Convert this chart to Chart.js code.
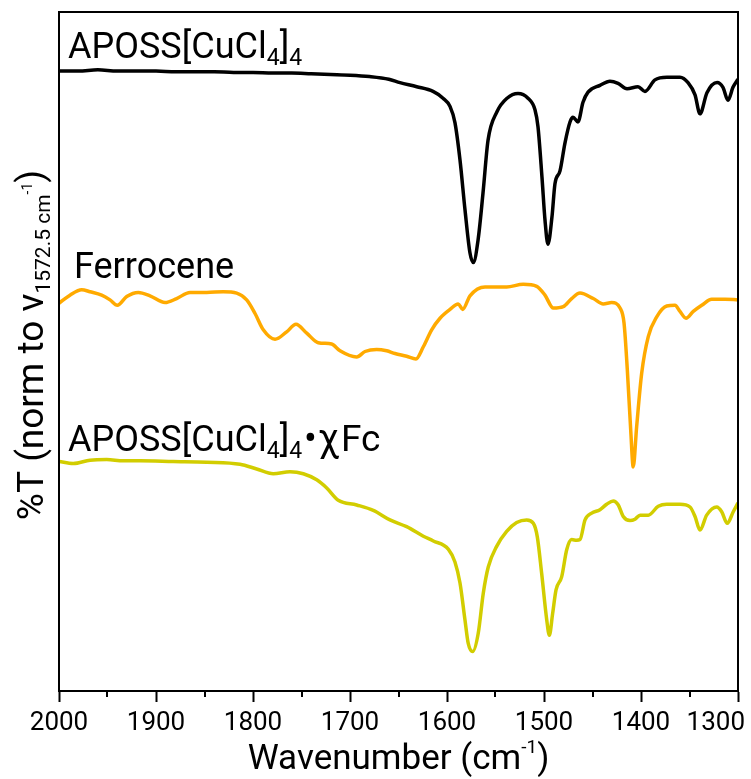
<!DOCTYPE html>
<html>
<head>
<meta charset="utf-8">
<script src="https://cdn.jsdelivr.net/npm/chart.js@4/dist/chart.umd.min.js"></script>
<style>
  html, body { margin: 0; padding: 0; background: #fff; }
  #wrap { width: 751px; height: 779px; }
</style>
</head>
<body>
<div id="wrap"><canvas id="c" width="751" height="779"></canvas></div>
<script>
// FTIR spectra, %T normalised to the 1572.5 cm-1 band, stacked with offsets.
const xTicks = [2000, 1900, 1800, 1700, 1600, 1500, 1400, 1300];
const xMinorTicks = [1950, 1850, 1750, 1650, 1550, 1450, 1350];

// APOSS[CuCl4]4
const cuclWn = [2000, 1980, 1960, 1940, 1920, 1900, 1880, 1860, 1840, 1820, 1800, 1780, 1760, 1740, 1720, 1700, 1680, 1660, 1648.5, 1631.2, 1614.4, 1604.1, 1596.9, 1591.8, 1586.6, 1581.4, 1576.3, 1572.9, 1568.0, 1562.9, 1557.7, 1548.5, 1538.1, 1526.8, 1516.5, 1509.3, 1506.2, 1502.1, 1499.0, 1495.9, 1491.8, 1488.7, 1483.5, 1478.4, 1473.2, 1470.1, 1465.0, 1459.8, 1454.6, 1442.3, 1432.0, 1423.7, 1414.4, 1403.1, 1395.9, 1385.6, 1373.2, 1359.8, 1351.5, 1344.3, 1339.2, 1332.0, 1321.6, 1315.5, 1310.3, 1305.2, 1300];
const cuclT  = [91.3, 91.3, 91.5, 91.3, 91.3, 91.3, 91.2, 91.2, 91.2, 91.1, 91.1, 91.0, 91.0, 90.9, 90.8, 90.7, 90.5, 90.1, 89.6, 89.0, 88.3, 87.3, 86.1, 83.7, 78.2, 70.8, 64.5, 63.1, 66.4, 73.3, 81.1, 85.3, 87.3, 88.0, 87.3, 85.6, 83.1, 75.7, 69.4, 65.8, 69.8, 74.7, 76.6, 80.7, 83.8, 84.5, 83.8, 86.7, 88.2, 89.2, 89.8, 89.5, 88.7, 89.0, 88.3, 90.0, 90.4, 90.4, 89.6, 87.8, 85.0, 88.1, 89.6, 88.9, 87.0, 88.9, 90.1];

// Ferrocene
const ferroWn = [2000, 1988.7, 1976.6, 1968.0, 1956.0, 1947.4, 1939.9, 1930.2, 1918.2, 1906.2, 1890.7, 1878.7, 1864.9, 1847.7, 1830.6, 1816.8, 1806.5, 1797.9, 1789.4, 1777.3, 1765.3, 1755.7, 1744.6, 1732.7, 1718.9, 1710.3, 1693.1, 1684.5, 1672.5, 1662.2, 1653.6, 1641.6, 1632.0, 1624.4, 1615.8, 1607.2, 1596.9, 1588.4, 1583.8, 1576.3, 1560.8, 1538.5, 1521.4, 1507.5, 1499.0, 1490.4, 1480.1, 1471.5, 1462.9, 1449.2, 1438.9, 1430.2, 1421.6, 1417.5, 1414.1, 1410.6, 1408.0, 1404.5, 1399.3, 1392.5, 1383.8, 1373.5, 1365.0, 1359.8, 1353.6, 1346.1, 1337.4, 1327.1, 1313.4, 1300];
const ferroT  = [57.1, 58.3, 59.1, 58.8, 58.3, 57.6, 56.8, 58.1, 58.7, 58.2, 57.2, 57.8, 58.7, 58.7, 58.8, 58.6, 57.6, 55.6, 53.2, 51.8, 52.9, 54.0, 52.7, 51.3, 51.1, 50.1, 49.2, 50.0, 50.3, 50.1, 49.7, 49.3, 48.9, 50.7, 53.2, 54.9, 56.2, 57.0, 56.2, 58.2, 59.5, 59.5, 59.9, 59.6, 58.3, 56.4, 56.6, 57.8, 58.6, 57.8, 57.0, 57.2, 56.4, 54.2, 47.3, 38.4, 33.0, 38.9, 46.8, 52.2, 55.1, 56.7, 56.8, 55.9, 54.9, 55.9, 56.8, 57.7, 57.7, 57.6];

// APOSS[CuCl4]4·χFc
const mixWn = [2000, 1985.3, 1968.0, 1950.8, 1933.7, 1916.5, 1882.2, 1847.7, 1813.4, 1796.2, 1779.1, 1761.9, 1748.1, 1734.3, 1724.0, 1712.1, 1693.1, 1676.0, 1658.8, 1641.6, 1624.4, 1614.1, 1598.7, 1591.8, 1586.6, 1581.5, 1578.1, 1573.5, 1567.8, 1562.6, 1557.4, 1548.8, 1538.5, 1528.2, 1517.9, 1511.0, 1506.9, 1502.4, 1497.2, 1494.5, 1491.1, 1487.6, 1481.8, 1476.6, 1471.5, 1466.3, 1462.9, 1457.7, 1450.8, 1442.3, 1435.4, 1428.6, 1423.4, 1418.3, 1411.3, 1406.2, 1401.0, 1392.5, 1382.2, 1373.5, 1359.8, 1349.5, 1344.3, 1339.2, 1332.3, 1321.9, 1316.8, 1311.1, 1304.9, 1300];
const mixT  = [33.8, 33.5, 34.0, 34.1, 33.9, 33.9, 33.8, 33.7, 33.4, 32.7, 32.0, 32.3, 32.0, 31.1, 29.9, 28.1, 27.4, 26.6, 25.2, 24.2, 22.8, 22.1, 20.9, 19.0, 15.9, 10.5, 7.0, 5.8, 8.5, 14.4, 18.3, 21.3, 23.5, 24.8, 25.2, 24.7, 22.7, 17.3, 10.5, 8.2, 11.4, 14.9, 16.8, 20.8, 22.3, 22.2, 22.3, 25.2, 26.2, 26.7, 27.5, 28.0, 27.4, 25.7, 25.1, 25.3, 25.9, 25.9, 27.2, 27.5, 27.5, 27.1, 25.7, 23.7, 25.9, 27.1, 26.4, 24.7, 26.4, 27.7];

const toPoints = (wn, t) => wn.map((w, i) => ({ x: w, y: t[i] }));

const FONT = 'Roboto, "Liberation Sans", sans-serif';

// Draws a run of text pieces (normal / subscript / superscript) left to right.
function richWidth(ctx, parts) {
  let w = 0;
  for (const p of parts) { ctx.font = p.size + 'px ' + FONT; w += ctx.measureText(p.t).width + (p.dx || 0); }
  return w;
}
function drawRich(ctx, parts, x, y, align) {
  let cx = x;
  if (align === 'center') cx = x - richWidth(ctx, parts) / 2;
  ctx.textAlign = 'left';
  ctx.textBaseline = 'alphabetic';
  for (const p of parts) {
    ctx.font = p.size + 'px ' + FONT;
    cx += (p.dx || 0);
    ctx.fillText(p.t, cx, y + (p.dy || 0));
    cx += ctx.measureText(p.t).width;
  }
}

const S = 36, SUB = 23;
const labelCucl = [{ t: 'APOSS[CuCl', size: S }, { t: '4', size: SUB, dy: 7 }, { t: ']', size: S }, { t: '4', size: SUB, dy: 7 }];
const labelFerro = [{ t: 'Ferrocene', size: S }];
const labelMix = [{ t: 'APOSS[CuCl', size: S }, { t: '4', size: SUB, dy: 7 }, { t: ']', size: S }, { t: '4', size: SUB, dy: 7 },
  { t: '•', size: 38, dx: 2 }, { t: 'χ', size: 38, dx: 1 }, { t: 'Fc', size: 37, dx: 2 }];
const titleX = [{ t: 'Wavenumber (cm', size: 35 }, { t: '-1', size: 19, dy: -16 }, { t: ')', size: 35 }];
const titleY = [{ t: '%T (norm to v', size: 37 }, { t: '1572.5 cm', size: 21, dy: 7 }, { t: '-1', size: 14, dy: -11 }, { t: ')', size: 37 }];

const framePlugin = {
  id: 'frame',
  beforeDraw(chart) {
    // keep the right-most tick label inside the canvas
    const xs = chart.scales.x;
    const items = xs.getLabelItems();
    for (const it of items) {
      if (String(it.label) === '1300') {
        it.options.textAlign = 'right';
        it.options.translation = [chart.width - 6, it.options.translation[1]];
      }
    }
  },
  afterDraw(chart) {
    const ctx = chart.ctx;
    const a = chart.chartArea;
    const xs = chart.scales.x;
    ctx.save();
    ctx.strokeStyle = '#000';
    ctx.lineWidth = 2;
    ctx.strokeRect(a.left, a.top, a.right - a.left, a.bottom - a.top);
    // minor ticks
    ctx.beginPath();
    for (const v of xMinorTicks) {
      const px = Math.round(xs.getPixelForValue(v));
      ctx.moveTo(px, a.bottom);
      ctx.lineTo(px, a.bottom + 6);
    }
    ctx.stroke();
    ctx.fillStyle = '#000';
    drawRich(ctx, labelCucl, 68, 58, 'left');
    drawRich(ctx, labelFerro, 74, 278, 'left');
    drawRich(ctx, labelMix, 68, 451, 'left');
    drawRich(ctx, titleX, (a.left + a.right) / 2, 769, 'center');
    ctx.save();
    ctx.translate(43, 345);
    ctx.rotate(-Math.PI / 2);
    drawRich(ctx, titleY, 0, 0, 'center');
    ctx.restore();
    ctx.restore();
  }
};

const line = (data, color) => ({
  data,
  borderColor: color,
  borderWidth: 3.5,
  pointRadius: 0,
  fill: false,
  cubicInterpolationMode: 'monotone'
});

new Chart(document.getElementById('c'), {
  type: 'line',
  data: {
    datasets: [
      line(toPoints(cuclWn, cuclT), '#000000'),
      line(toPoints(ferroWn, ferroT), '#ffaa00'),
      line(toPoints(mixWn, mixT), '#d2cd00')
    ]
  },
  options: {
    responsive: false,
    animation: false,
    devicePixelRatio: 1,
    layout: { padding: { left: 59, top: 12, right: 13, bottom: 0 } },
    plugins: { legend: { display: false }, tooltip: { enabled: false } },
    scales: {
      x: {
        type: 'linear',
        reverse: true,
        min: 1300,
        max: 2000,
        afterBuildTicks: (s) => { s.ticks = xTicks.map(v => ({ value: v })); },
        afterFit: (s) => { s.height = 88; s.paddingLeft = 0; s.paddingRight = 0; },
        ticks: {
          maxRotation: 0,
          autoSkip: false,
          color: '#000',
          padding: 6,
          font: { family: FONT, size: 26 },
          callback: (v) => String(v)
        },
        grid: { drawOnChartArea: false, drawTicks: true, tickLength: 11, tickWidth: 2, tickColor: '#000' },
        border: { display: true, color: '#000', width: 2 }
      },
      y: {
        display: false,
        min: 0,
        max: 100
      }
    }
  },
  plugins: [framePlugin]
});
</script>
</body>
</html>
